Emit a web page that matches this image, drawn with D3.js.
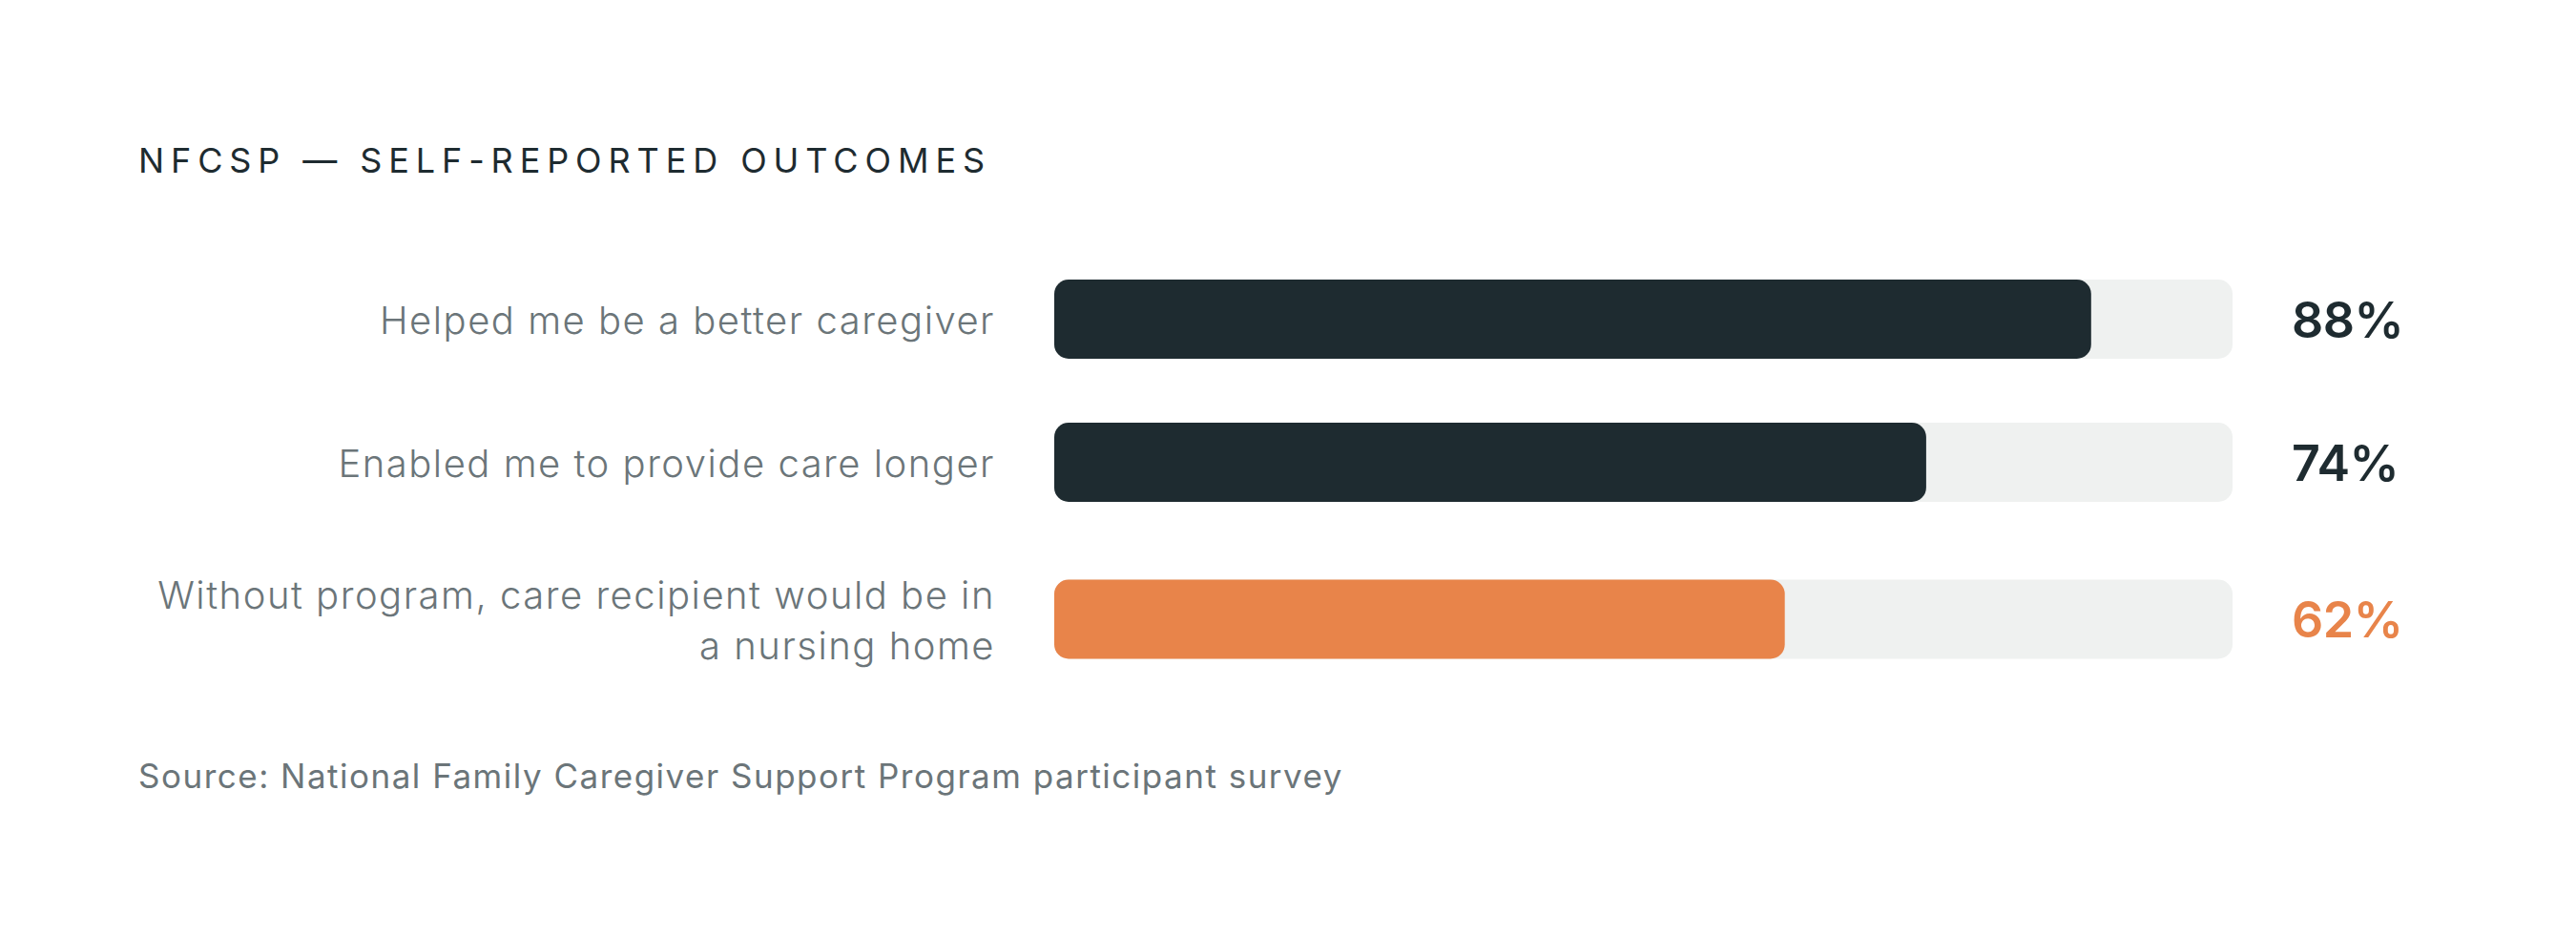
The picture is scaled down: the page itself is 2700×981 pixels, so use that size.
<!DOCTYPE html>
<html>
<head>
<meta charset="utf-8">
<script src="https://cdn.jsdelivr.net/npm/d3@7"></script>
<style>
  html, body { margin: 0; padding: 0; background: #fff; }
  svg { display: block; }
</style>
</head>
<body>
<div id="chart"></div>
<script>
const title = 'NFCSP — SELF-REPORTED OUTCOMES'
const source = 'Source: National Family Caregiver Support Program participant survey'
const categories = [
  ['Helped me be a better caregiver'],
  ['Enabled me to provide care longer'],
  ['Without program, care recipient would be in', 'a nursing home']
]
const values = [88, 74, 62]
const highlight = [false, false, true]

const W = 2700
const H = 981
const DARK = '#1e2b30'
const ORANGE = '#e8844a'
const TRACK = '#eff1f0'
const GREY = '#6b7579'
const FONT = 'Inter, "Open Sans", sans-serif'

const svg = d3.select('#chart')
  .append('svg')
  .attr('width', W)
  .attr('height', H)

svg.append('rect').attr('width', W).attr('height', H).attr('fill', '#fff')

const x = d3.scaleLinear().domain([0, 100]).range([1105, 2340])

// row layout: bar height, label line height, gap between rows
const barH = 83
const lineH = 53
const gap = 67
let rowTop = 293
const rows = categories.map((lines, i) => {
  const block = Math.max(barH, lines.length * (lineH + 3))
  const center = rowTop + (i === 0 ? barH / 2 : block / 2)
  const r = { lines, value: values[i], hi: highlight[i], center }
  rowTop = center + block / 2 + gap
  return r
})

svg.append('text')
  .attr('x', 145)
  .attr('y', 181)
  .attr('font-family', FONT)
  .attr('font-size', 36)
  .attr('font-weight', 400)
  .attr('letter-spacing', '6.9px')
  .attr('fill', DARK)
  .text(title)

const g = svg.append('g')
const row = g.selectAll('g.row').data(rows).join('g').attr('class', 'row')

row.append('rect')
  .attr('x', x(0))
  .attr('y', d => d.center - barH / 2)
  .attr('width', x(100) - x(0))
  .attr('height', barH)
  .attr('rx', 15)
  .attr('fill', TRACK)

row.append('rect')
  .attr('x', x(0))
  .attr('y', d => d.center - barH / 2)
  .attr('width', d => x(d.value) - x(0))
  .attr('height', barH)
  .attr('rx', 15)
  .attr('fill', d => d.hi ? ORANGE : DARK)

row.append('text')
  .attr('x', x(0) - 62)
  .attr('text-anchor', 'end')
  .attr('font-family', FONT)
  .attr('font-size', 40)
  .attr('font-weight', 300)
  .attr('letter-spacing', '1.5px')
  .attr('fill', GREY)
  .each(function (d) {
    const n = d.lines.length
    d3.select(this).selectAll('tspan').data(d.lines).join('tspan')
      .attr('x', x(0) - 62)
      .attr('y', (l, j) => d.center + 15 + (j - (n - 1) / 2) * lineH)
      .text(l => l)
  })

row.append('text')
  .attr('x', x(100) + 62)
  .attr('y', d => d.center + 19)
  .attr('font-family', FONT)
  .attr('font-size', 52)
  .attr('font-weight', 600)
  .attr('letter-spacing', '-0.5px')
  .attr('fill', d => d.hi ? ORANGE : DARK)
  .text(d => d.value + '%')

svg.append('text')
  .attr('x', 145)
  .attr('y', 826)
  .attr('font-family', FONT)
  .attr('font-size', 35)
  .attr('font-weight', 400)
  .attr('letter-spacing', '1.5px')
  .attr('fill', GREY)
  .text(source)
</script>
</body>
</html>
